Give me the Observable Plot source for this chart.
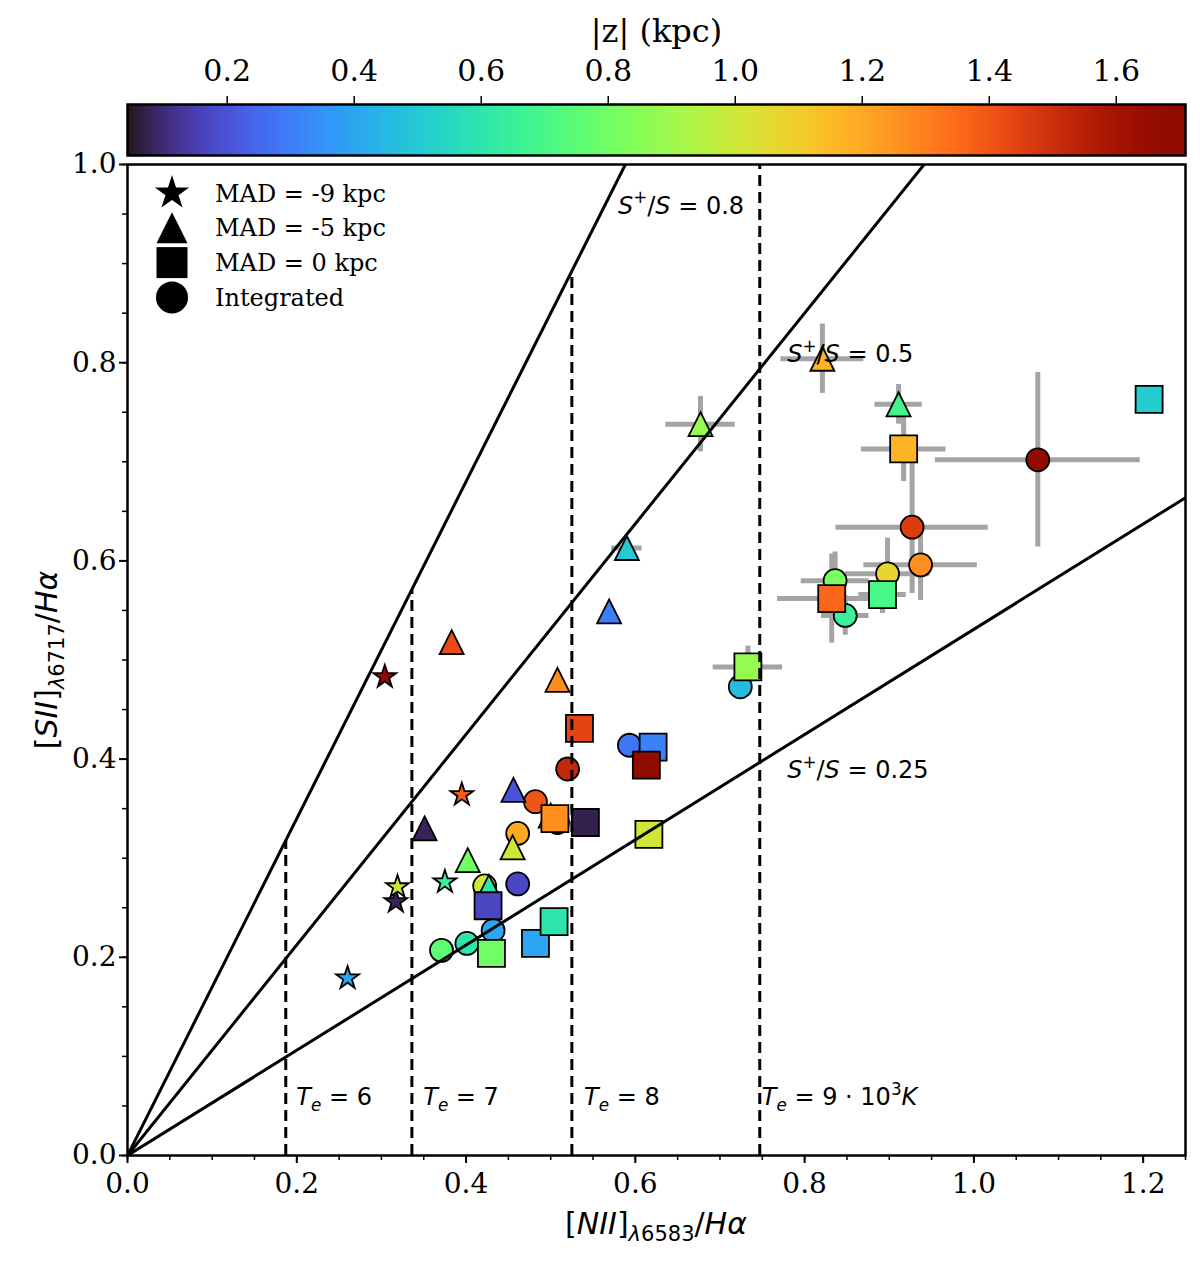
<!DOCTYPE html>
<html lang="en">
<head>
<meta charset="UTF-8">
<script src="https://cdn.jsdelivr.net/npm/d3@7"></script>
<script src="https://cdn.jsdelivr.net/npm/@observablehq/plot@0.6"></script>
<title>SII vs NII ratios</title>
<style>
  body { margin: 0; background: white; }
  #chart svg { display: block; }
</style>
</head>
<body>
<div id="chart"></div>
<script>
// |z| colour range (kpc) and colorbar ticks
const zMin = 0.043, zMax = 1.709;
const zTicks = [0.2, 0.4, 0.6, 0.8, 1.0, 1.2, 1.4, 1.6];

// MAD = -9 kpc (stars)
const starX = [0.304, 0.395, 0.317, 0.319, 0.375, 0.260];
const starY = [0.483, 0.364, 0.256, 0.271, 0.276, 0.179];
const starZ = [1.68, 1.38, 0.08, 1.00, 0.65, 0.40];

// MAD = -5 kpc (triangles)
const triX = [0.500, 0.383, 0.508, 0.456, 0.351, 0.455, 0.402, 0.427, 0.677, 0.821, 0.911, 0.590, 0.569];
const triY = [0.343, 0.518, 0.480, 0.369, 0.330, 0.311, 0.298, 0.271, 0.738, 0.804, 0.758, 0.613, 0.549];
const triZ = [1.05, 1.42, 1.27, 0.20, 0.08, 1.00, 0.80, 0.60, 0.88, 1.17, 0.68, 0.50, 0.30];

// MAD = 0 kpc (squares)
const sqX = [0.534, 0.621, 0.613, 0.505, 0.541, 0.616, 0.426, 0.430, 0.482, 0.504, 0.733, 0.832, 0.892, 0.917, 1.207];
const sqY = [0.431, 0.412, 0.394, 0.340, 0.336, 0.324, 0.252, 0.204, 0.214, 0.236, 0.493, 0.562, 0.566, 0.713, 0.763];
const sqZ = [1.44, 0.31, 1.70, 1.26, 0.07, 1.01, 0.17, 0.80, 0.40, 0.60, 0.88, 1.36, 0.70, 1.17, 0.51];

// Integrated (circles)
const circX = [0.593, 0.520, 0.482, 0.461, 0.422, 0.461, 0.371, 0.401, 0.432, 0.508, 0.724, 0.836, 0.848, 0.898, 0.937, 0.927, 1.0755];
const circY = [0.414, 0.390, 0.357, 0.325, 0.272, 0.274, 0.207, 0.214, 0.227, 0.336, 0.473, 0.580, 0.545, 0.587, 0.596, 0.634, 0.702];
const circZ = [0.28, 1.52, 1.40, 1.20, 1.01, 0.17, 0.75, 0.60, 0.40, 0.12, 0.46, 0.82, 0.65, 1.07, 1.26, 1.46, 1.70];

// error bars (symmetric)
const ebX    = [0.677, 0.821, 0.911, 0.917, 1.0755, 0.927, 0.937, 0.898, 0.836, 0.832, 0.892, 0.848, 0.733, 0.590];
const ebY    = [0.738, 0.804, 0.758, 0.713, 0.702, 0.634, 0.596, 0.587, 0.580, 0.562, 0.566, 0.545, 0.493, 0.613];
const ebXerr = [0.041, 0.049, 0.028, 0.050, 0.121, 0.090, 0.067, 0.050, 0.040, 0.064, 0.028, 0.028, 0.041, 0.018];
const ebYerr = [0.028, 0.035, 0.020, 0.033, 0.088, 0.067, 0.036, 0.036, 0.029, 0.045, 0.019, 0.020, 0.021, 0.005];

// S+/S model lines and Te lines
const sRatio = ["0.8", "0.5", "0.25"];
const sSlope = [1.70, 1.0625, 0.531];
const sLabelX = [0.58, 0.78, 0.78];
const sLabelY = [0.95, 0.80, 0.38];
const teX = [0.187, 0.336, 0.525, 0.747];
const teLabel = ["6", "7", "8", "9"];
const teLabelX = [0.20, 0.35, 0.54, 0.75];

const xTicks = [0, 0.2, 0.4, 0.6, 0.8, 1.0, 1.2];
const yTicks = [0, 0.2, 0.4, 0.6, 0.8, 1.0];
const xMinor = d3.range(0, 1.2501, 0.05);
const yMinor = d3.range(0, 1.0001, 0.05);

const legendLabels = ["MAD = -9 kpc", "MAD = -5 kpc", "MAD = 0 kpc", "Integrated"];

// matplotlib-like marker shapes; r = half size in px
const mplTriangle = {draw(c, size) { const s = Math.sqrt(size / Math.PI);
  c.moveTo(0, -s); c.lineTo(s, s); c.lineTo(-s, s); c.closePath(); }};
const mplSquare = {draw(c, size) { const s = Math.sqrt(size / Math.PI);
  c.rect(-s, -s, 2 * s, 2 * s); }};
const mplStar = {draw(c, size) { const R = Math.sqrt(size / Math.PI), r = R * 0.382;
  for (let k = 0; k < 10; k++) {
    const a = -Math.PI / 2 + k * Math.PI / 5, rr = k % 2 ? r : R;
    k ? c.lineTo(rr * Math.cos(a), rr * Math.sin(a)) : c.moveTo(rr * Math.cos(a), rr * Math.sin(a));
  }
  c.closePath(); }};
const mplCircle = {draw(c, size) { const s = Math.sqrt(size / Math.PI);
  c.moveTo(s, 0); c.arc(0, 0, s, 0, 2 * Math.PI); }};

const rows = (xs, ys, zs) => xs.map((x, i) => ({x, y: ys[i], z: zs[i]}));
const ebRows = ebX.map((x, i) => ({x, y: ebY[i], xe: ebXerr[i], ye: ebYerr[i]}));
const sRows = sRatio.map((s, i) => ({s, k: sSlope[i], lx: sLabelX[i], ly: sLabelY[i]}));

const colorOpts = {type: "linear", scheme: "turbo", domain: [zMin, zMax]};
const edge = {stroke: "black", strokeWidth: 1.8};

// rich text helper (italic / sub / sup parts)
function rich(sel, x, y, parts, size, opts = {}) {
  const t = sel.append("text")
    .attr("x", x).attr("y", y)
    .attr("font-family", opts.family || "DejaVu Sans")
    .attr("font-size", size)
    .attr("text-anchor", opts.anchor || "start")
    .attr("fill", "black");
  if (opts.rotate) t.attr("transform", `rotate(${opts.rotate},${x},${y})`);
  let shift = 0;
  for (const p of parts) {
    const target = p.sub ? 0.22 * size : p.sup ? -0.42 * size : 0;
    const ts = t.append("tspan").text(p.t)
      .attr("font-size", (p.sub || p.sup) ? 0.7 * size : size)
      .attr("dy", target - shift);
    if (p.i) ts.attr("font-style", "italic");
    shift = target;
  }
  return t;
}

// ---- colorbar ----
const zStep = (zMax - zMin) / 400;
const zGrid = d3.range(zMin, zMax, zStep);
const cbar = Plot.plot({
  width: 1200,
  height: 158,
  marginLeft: 127,
  marginRight: 15,
  marginTop: 104,
  marginBottom: 3,
  style: {fontFamily: "DejaVu Serif", fontSize: "30px", color: "black", background: "white"},
  x: {domain: [zMin, zMax]},
  y: {domain: [0, 1], axis: null},
  color: colorOpts,
  marks: [
    Plot.rect(zGrid, {x1: d => d, x2: d => Math.min(zMax, d + zStep * 1.6), y1: () => 0, y2: () => 1, fill: d => d}),
    Plot.frame({stroke: "black", strokeWidth: 2.5}),
    Plot.axisX({anchor: "top", ticks: zTicks, tickFormat: ".1f", tickSize: 9, tickPadding: 15, strokeWidth: 1.5, label: null}),
    Plot.text(["|z| (kpc)"], {frameAnchor: "top", dy: -85, fontSize: 32})
  ]
});

// ---- main scatter ----
const plot = Plot.plot({
  width: 1200,
  height: 1104,
  marginLeft: 127,
  marginRight: 15,
  marginTop: 6,
  marginBottom: 107,
  style: {fontFamily: "DejaVu Serif", fontSize: "28px", color: "black", background: "white", overflow: "visible"},
  x: {domain: [0, 1.25]},
  y: {domain: [0, 1]},
  color: colorOpts,
  marks: [
    Plot.ruleY(ebRows, {y: "y", x1: d => d.x - d.xe, x2: d => d.x + d.xe, stroke: "#a4a4a4", strokeWidth: 5}),
    Plot.ruleX(ebRows, {x: "x", y1: d => d.y - d.ye, y2: d => d.y + d.ye, stroke: "#a4a4a4", strokeWidth: 5}),
    Plot.dot(rows(circX, circY, circZ), {x: "x", y: "y", fill: "z", symbol: mplCircle, r: 11.5, ...edge}),
    Plot.dot(rows(starX, starY, starZ), {x: "x", y: "y", fill: "z", symbol: mplStar, r: 12, ...edge}),
    Plot.dot(rows(triX, triY, triZ), {x: "x", y: "y", fill: "z", symbol: mplTriangle, r: 12, ...edge}),
    Plot.dot(rows(sqX, sqY, sqZ), {x: "x", y: "y", fill: "z", symbol: mplSquare, r: 13.5, ...edge}),
    Plot.link(sRows, {x1: () => 0, y1: () => 0, x2: () => 1.25, y2: d => 1.25 * d.k, stroke: "black", strokeWidth: 3, clip: true}),
    Plot.ruleX(teX, {x: d => d, y1: () => 0, y2: d => Math.min(1, sSlope[0] * d), stroke: "black", strokeWidth: 3, strokeDasharray: "11,6"}),
    Plot.axisX({ticks: xMinor, tickSize: 5, tickFormat: () => "", strokeWidth: 1.5, label: null}),
    Plot.axisX({ticks: xTicks, tickFormat: ".1f", tickSize: 8, tickPadding: 10, strokeWidth: 2, label: null}),
    Plot.axisY({ticks: yMinor, tickSize: 5, tickFormat: () => "", strokeWidth: 1.5, label: null}),
    Plot.axisY({ticks: yTicks, tickFormat: ".1f", tickSize: 8, tickPadding: 3, strokeWidth: 2, label: null}),
    Plot.frame({stroke: "black", strokeWidth: 2.5})
  ]
});

const sx = plot.scale("x"), sy = plot.scale("y");
const svg = d3.select(plot);
const ann = svg.append("g");

// S+/S annotations
sRows.forEach(d => {
  rich(ann, sx.apply(d.lx), sy.apply(d.ly), [
    {t: "S", i: true}, {t: "+", sup: true}, {t: "/"}, {t: "S", i: true}, {t: " = " + d.s}
  ], 24);
});

// Te annotations
teLabelX.forEach((x, i) => {
  const parts = [{t: "T", i: true}, {t: "e", i: true, sub: true}, {t: " = " + teLabel[i]}];
  if (i === teLabelX.length - 1) parts.push({t: " · 10"}, {t: "3", sup: true}, {t: "K", i: true});
  rich(ann, sx.apply(x), sy.apply(0.05), parts, 24);
});

// axis labels
rich(ann, 656, 1076, [
  {t: "["}, {t: "NII", i: true}, {t: "]"}, {t: "λ", i: true, sub: true}, {t: "6583", sub: true},
  {t: "/"}, {t: "Hα", i: true}
], 30, {anchor: "middle"});
rich(ann, 57, 502, [
  {t: "["}, {t: "SII", i: true}, {t: "]"}, {t: "λ", i: true, sub: true}, {t: "6717", sub: true},
  {t: "/"}, {t: "Hα", i: true}
], 30, {anchor: "middle", rotate: -90});

// legend
const legendSym = [[mplStar, 18], [mplTriangle, 15.5], [mplSquare, 15.5], [mplCircle, 16]];
const leg = svg.append("g");
legendLabels.forEach((label, i) => {
  const cy = 35 + i * 34.8;
  const [sym, r] = legendSym[i];
  leg.append("path")
    .attr("transform", `translate(172,${cy})`)
    .attr("d", d3.symbol(sym, Math.PI * r * r)())
    .attr("fill", "black");
  leg.append("text")
    .attr("x", 215).attr("y", cy + 8.5)
    .attr("text-anchor", "start")
    .attr("font-family", "DejaVu Serif").attr("font-size", 24)
    .attr("fill", "black")
    .text(label);
});

const chart = document.getElementById("chart");
chart.append(cbar);
chart.append(plot);
</script>
</body>
</html>
